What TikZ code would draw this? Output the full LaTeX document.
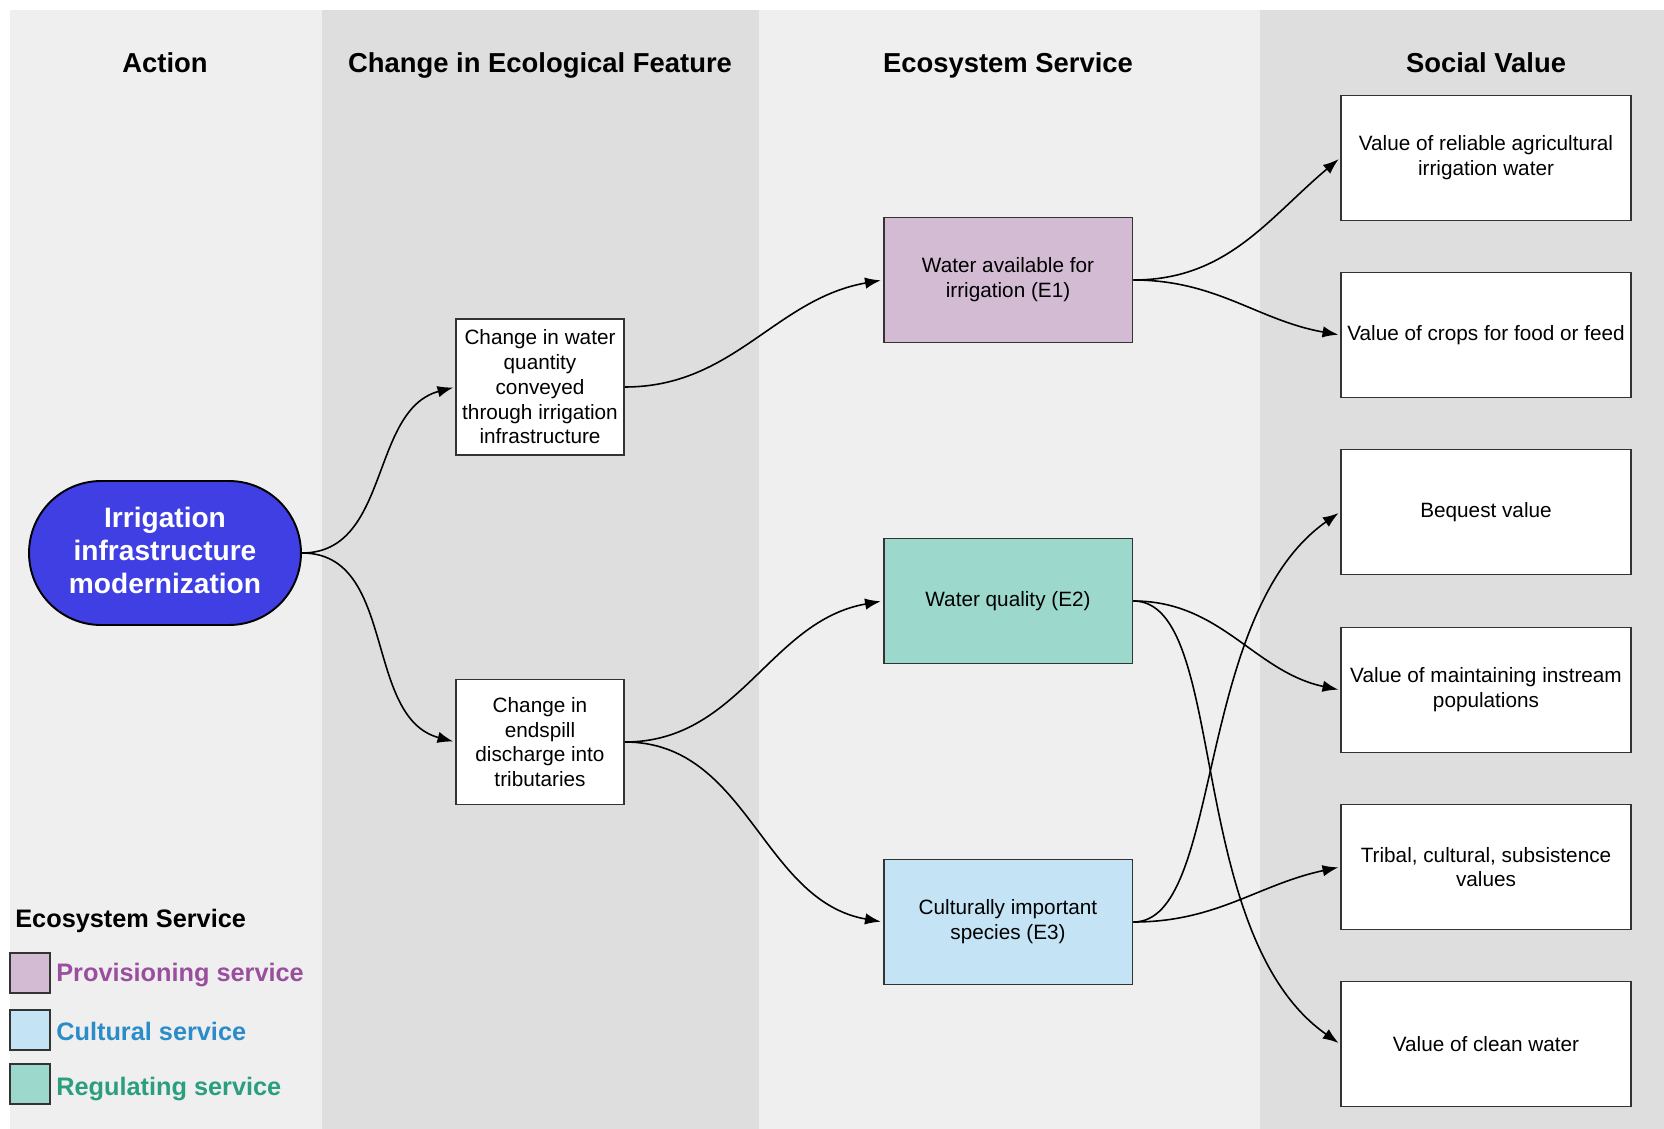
\documentclass[tikz,border=0pt]{standalone}
\usepackage{fontspec}
\setmainfont{Liberation Sans}
\usepackage{xcolor}
\usetikzlibrary{arrows.meta}
\definecolor{bglight}{HTML}{EFEFEF}
\definecolor{bgdark}{HTML}{DEDEDE}
\definecolor{actfill}{HTML}{3F3FE3}
\definecolor{provfill}{HTML}{D4BBD4}
\definecolor{regfill}{HTML}{9CD8CC}
\definecolor{cultfill}{HTML}{C4E4F6}
\definecolor{provtext}{HTML}{9A4F9E}
\definecolor{culttext}{HTML}{2A8CC8}
\definecolor{regtext}{HTML}{2A9E7E}
\definecolor{edge}{HTML}{333333}

\begin{document}
\begin{tikzpicture}[x=0.02cm, y=-0.02cm,
    boxtext/.style={font=\fontsize{11.8}{14.1}\selectfont, align=center, inner sep=0pt,
        draw=edge, line width=1.1pt},
    featbox/.style={boxtext, fill=white, minimum width=3.36cm},
    servbox/.style={boxtext, minimum width=4.98cm, minimum height=2.5cm},
    valbox/.style={boxtext, fill=white, minimum width=5.8cm, minimum height=2.5cm},
    colhead/.style={font=\fontsize{15.6}{18}\selectfont\bfseries, anchor=base},
    legsq/.style={draw=edge, line width=1.1pt, minimum size=0.8cm, inner sep=0pt},
    legtext/.style={font=\fontsize{14.4}{17}\selectfont\bfseries, anchor=base west, inner sep=0pt},
    flow/.style={-{Latex[length=9pt,width=6.5pt]}, line width=0.9pt, out=0, shorten >=1pt}]

    % background columns
    \useasboundingbox (0,0) rectangle (1664,1129);
    \fill[white] (0,0) rectangle (1664,1129);
    \fill[bglight] (10,10) rectangle (322,1129);
    \fill[bgdark] (322,10) rectangle (759,1129);
    \fill[bglight] (759,10) rectangle (1260,1129);
    \fill[bgdark] (1260,10) rectangle (1664,1129);

    % column headings
    \node[colhead] (hdact) at (165,72) {Action};
    \node[colhead] (hdfeat) at (540,72) {Change in Ecological Feature};
    \node[colhead] (hdserv) at (1008,72) {Ecosystem Service};
    \node[colhead] (hdval) at (1486,72) {Social Value};

    % action
    \node[draw=black, line width=1.1pt, fill=actfill, text=white, align=center,
        minimum width=5.44cm, minimum height=2.88cm, rounded corners=1.44cm,
        font=\fontsize{16}{18.8}\selectfont\bfseries] (act) at (165,553)
        {Irrigation\\infrastructure\\modernization\vphantom{g}\raisebox{3pt}{}};

    % ecological features
    \node[featbox, minimum height=2.72cm] (featA) at (540,387)
        {Change in water\\quantity\\conveyed\\through irrigation\\infrastructure};
    \node[featbox, minimum height=2.5cm] (featB) at (540,742)
        {Change in\\endspill\\discharge into\\tributaries};

    % ecosystem services
    \node[servbox, fill=provfill] (servE1) at (1008,280) {Water available for\\irrigation (E1)};
    \node[servbox, fill=regfill] (servE2) at (1008,601) {Water quality (E2)};
    \node[servbox, fill=cultfill] (servE3) at (1008,922) {Culturally important\\species (E3)};

    % social values
    \node[valbox] (valA) at (1486,158) {Value of reliable agricultural\\irrigation water};
    \node[valbox] (valB) at (1486,335) {Value of crops for food or feed};
    \node[valbox] (valC) at (1486,512) {Bequest value};
    \node[valbox] (valD) at (1486,690) {Value of maintaining instream\\populations};
    \node[valbox] (valE) at (1486,867) {Tribal, cultural, subsistence\\values};
    \node[valbox] (valF) at (1486,1044) {Value of clean water};

    % connectors
    \draw[flow] (act.east) to[in=195] (featA.west);
    \draw[flow] (act.east) to[in=165] (featB.west);
    \draw[flow] (featA.east) to[in=190] (servE1.west);
    \draw[flow] (featB.east) to[in=190] (servE2.west);
    \draw[flow] (featB.east) to[in=170] (servE3.west);
    \draw[flow] (servE1.east) to[in=220] (valA.west);
    \draw[flow] (servE1.east) to[in=170] (valB.west);
    \draw[flow] (servE2.east) to[in=168] (valD.west);
    \draw[flow] (servE2.east) to[in=145, out looseness=0.5] (valF.west);
    \draw[flow] (servE3.east) to[in=215, out looseness=0.5] (valC.west);
    \draw[flow] (servE3.east) to[in=192] (valE.west);

    % legend
    \node[legtext] (lgtitle) at (15,927) {Ecosystem Service};
    \node[legsq, fill=provfill] (lgprov) at (30,973) {};
    \node[legtext, text=provtext] (lgprovtx) at (56,981) {Provisioning service};
    \node[legsq, fill=cultfill] (lgcult) at (30,1030) {};
    \node[legtext, text=culttext] (lgculttx) at (56,1040) {Cultural service};
    \node[legsq, fill=regfill] (lgreg) at (30,1084) {};
    \node[legtext, text=regtext] (lgregtx) at (56,1095) {Regulating service};
\end{tikzpicture}
\end{document}
